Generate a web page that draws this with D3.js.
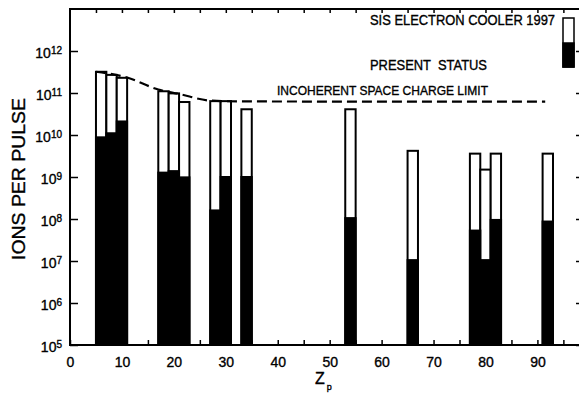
<!DOCTYPE html>
<html>
<head>
<meta charset="utf-8">
<script src="https://cdn.jsdelivr.net/npm/d3@7"></script>
<style>
  html, body { margin: 0; padding: 0; background: #fff; }
  text { font-family: "Liberation Sans", Arial, sans-serif; fill: #000; stroke: #000; stroke-width: 0.35px; }
</style>
</head>
<body>
<div class="chart"></div>
<script>
const zValues = [6, 8, 10, 18, 20, 22, 28, 30, 34, 54, 66, 78, 80, 82, 92];
const coolerValues = [3.2e11, 2.7e11, 2.3e11, 1.1e11, 9.8e10, 6.1e10, 6.4e10, 6.4e10, 4.1e10, 4.1e10, 4.2e9, 3.6e9, 1.5e9, 3.6e9, 3.6e9];
const presentValues = [8.8e9, 1.1e10, 2.1e10, 1.27e9, 1.38e9, 9.8e8, 1.6e8, 1e9, 1e9, 1.05e8, 1.05e7, 5.3e7, 1.05e7, 9.5e7, 8.7e7];

const limitZ = [5, 11, 17, 21, 27, 33, 91.5];
const limitValues = [3.2e11, 2.34e11, 1.21e11, 9.5e10, 6.6e10, 6.3e10, 6.2e10];

const yTicks = [1e5, 1e6, 1e7, 1e8, 1e9, 1e10, 1e11, 1e12];
const xTicks = d3.range(0, 96, 5);

const width = 579;
const height = 397;

const svg = d3.select(".chart")
	.append("svg")
	.attr("width", width)
	.attr("height", height);

const x = d3.scaleLinear().domain([0, 98.2]).range([70, 580]);
const y = d3.scaleLog().domain([1e5, 1e13]).range([345, 9]);

// bars: cooler goal (open) behind present status (filled)
svg.append("g")
	.selectAll("rect")
	.data(zValues)
	.enter()
	.append("rect")
		.attr("x", (d) => x(d - 1))
		.attr("width", (d) => x(d + 1) - x(d - 1))
		.attr("y", (d, i) => y(coolerValues[i]))
		.attr("height", (d, i) => y(1e5) - y(coolerValues[i]))
		.attr("fill", "#fff")
		.attr("stroke", "#000")
		.attr("stroke-width", 2);

svg.append("g")
	.selectAll("rect")
	.data(zValues)
	.enter()
	.append("rect")
		.attr("x", (d) => x(d - 1))
		.attr("width", (d) => x(d + 1) - x(d - 1))
		.attr("y", (d, i) => y(presentValues[i]))
		.attr("height", (d, i) => y(1e5) - y(presentValues[i]))
		.attr("fill", "#000")
		.attr("stroke", "#000")
		.attr("stroke-width", 2);

// space charge limit
const limitLine = d3.line()
	.x((d, i) => x(limitZ[i]))
	.y((d) => y(d))
	.curve(d3.curveMonotoneX);

svg.append("path")
	.attr("d", limitLine(limitValues))
	.attr("fill", "none")
	.attr("stroke", "#000")
	.attr("stroke-width", 2.2)
	.attr("stroke-dasharray", "10,5");

// frame
svg.append("rect")
	.attr("x", 70)
	.attr("y", 9)
	.attr("width", 510)
	.attr("height", 336)
	.attr("fill", "none")
	.attr("stroke", "#000")
	.attr("stroke-width", 2);

const styleAxis = (g) => {
	g.select(".domain").remove();
	g.attr("font-family", null).attr("font-size", null);
	g.selectAll(".tick line").attr("stroke-width", 1.5);
};

svg.append("g")
	.attr("transform", "translate(0,345)")
	.call(d3.axisBottom(x)
		.tickValues(xTicks)
		.tickSize(-5)
		.tickPadding(12)
		.tickFormat((d) => d % 10 === 0 ? d : ""))
	.call(styleAxis)
	.selectAll("text")
		.attr("font-size", 14);

svg.append("g")
	.attr("transform", "translate(0,9)")
	.call(d3.axisTop(x).tickValues(xTicks.slice(1)).tickSize(-4).tickFormat(""))
	.call(styleAxis);

const left = svg.append("g")
	.attr("transform", "translate(70,0)")
	.call(d3.axisLeft(y).tickValues(yTicks).tickSize(-8).tickPadding(8).tickFormat(""))
	.call(styleAxis);

left.selectAll(".tick text")
	.attr("dy", "0.45em")
	.attr("font-size", 14)
	.each(function (d) {
		const t = d3.select(this);
		t.append("tspan").text("10");
		t.append("tspan")
			.attr("dy", -4)
			.attr("font-size", 10)
			.text(Math.round(Math.log10(d)));
	});

svg.append("g")
	.attr("transform", "translate(580,0)")
	.call(d3.axisRight(y).tickValues(yTicks).tickSize(-4).tickFormat(""))
	.call(styleAxis);

// axis titles
svg.append("text")
	.attr("transform", "translate(25,179) rotate(-90)")
	.attr("text-anchor", "middle")
	.attr("font-size", 18)
	.attr("textLength", 162)
	.attr("lengthAdjust", "spacingAndGlyphs")
	.text("IONS PER PULSE");

const zLabel = svg.append("text")
	.attr("x", 315)
	.attr("y", 384)
	.attr("font-size", 16);
zLabel.append("tspan").text("Z");
zLabel.append("tspan")
	.attr("dy", 6)
	.attr("dx", 2)
	.attr("font-size", 9)
	.text("p");

// legend
svg.append("text")
	.attr("x", 370).attr("y", 25)
	.attr("font-size", 14)
	.attr("textLength", 185)
	.attr("lengthAdjust", "spacingAndGlyphs")
	.text("SIS ELECTRON COOLER 1997");

svg.append("text")
	.attr("x", 370).attr("y", 70)
	.attr("font-size", 14)
	.attr("textLength", 117)
	.attr("lengthAdjust", "spacingAndGlyphs")
	.style("white-space", "pre")
	.text("PRESENT  STATUS");

svg.append("text")
	.attr("x", 277).attr("y", 95)
	.attr("font-size", 13)
	.attr("textLength", 211)
	.attr("lengthAdjust", "spacingAndGlyphs")
	.text("INCOHERENT SPACE CHARGE LIMIT");

svg.append("rect")
	.attr("x", 563).attr("y", 18)
	.attr("width", 11).attr("height", 49)
	.attr("fill", "#fff")
	.attr("stroke", "#000")
	.attr("stroke-width", 1.5);
svg.append("rect")
	.attr("x", 563).attr("y", 43)
	.attr("width", 11).attr("height", 24)
	.attr("fill", "#000")
	.attr("stroke", "#000")
	.attr("stroke-width", 1.5);
</script>
</body>
</html>
